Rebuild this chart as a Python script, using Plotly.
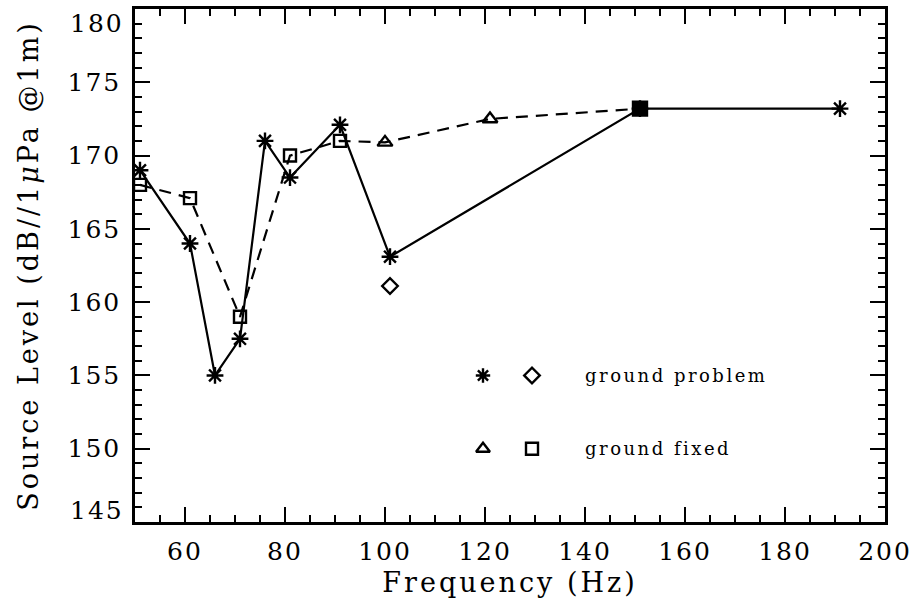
import plotly.graph_objects as go

# ground problem series (asterisks, solid line)
problem_freq = [51, 61, 66, 71, 76, 81, 91, 101, 151, 191]
problem_level = [169.0, 164.0, 155.0, 157.5, 171.0, 168.5, 172.1, 163.1, 173.2, 173.2]

# ground problem extra point (diamond)
diamond_freq = [101]
diamond_level = [161.1]

# ground fixed series (squares / triangles, dashed line)
fixed_freq = [51, 61, 71, 81, 91, 100, 121, 151]
fixed_level = [168.0, 167.1, 159.0, 170.0, 171.0, 170.9, 172.5, 173.2]
fixed_symbols = ["square-open", "square-open", "square-open", "square-open",
                 "square-open", "triangle-up-open", "triangle-up-open", "square"]
fixed_sizes = [12, 12, 12, 12, 12, 13, 13, 14]

# legend keys (drawn inside the plot)
legend_labels = ["ground problem", "ground fixed"]
legend_level = [155.0, 150.0]
legend_sym_x = [119.6, 129.4]
legend_text_x = 139.6

# tick labels
x_ticks = [60, 80, 100, 120, 140, 160, 180, 200]
y_ticks_inner = [150, 155, 160, 165, 170, 175]
y_edge_labels = ["180", "145"]
y_range = [145, 180]
x_range = [50, 200]

FONT = "DejaVu Serif"
BLACK = "black"


def spaced(txt, px):
    return '<span style="letter-spacing:%spx">%s</span>' % (px, txt)


fig = go.Figure()

fig.add_trace(go.Scatter(
    x=problem_freq, y=problem_level, mode="lines+markers",
    line=dict(color=BLACK, width=2.2),
    marker=dict(symbol="asterisk-open", size=14, color=BLACK,
                line=dict(color=BLACK, width=2.4)),
    hoverinfo="skip", showlegend=False))

fig.add_trace(go.Scatter(
    x=fixed_freq, y=fixed_level, mode="lines",
    line=dict(color=BLACK, width=2.2, dash="12px,8px"),
    hoverinfo="skip", showlegend=False))
fig.add_trace(go.Scatter(
    x=fixed_freq, y=fixed_level, mode="markers",
    marker=dict(symbol=fixed_symbols, size=fixed_sizes, color=BLACK, opacity=1,
                line=dict(color=BLACK, width=2.4)),
    hoverinfo="skip", showlegend=False))

fig.add_trace(go.Scatter(
    x=diamond_freq, y=diamond_level, mode="markers",
    marker=dict(symbol="diamond-open", size=12, color=BLACK,
                line=dict(color=BLACK, width=2.4)),
    hoverinfo="skip", showlegend=False))

# legend symbols
fig.add_trace(go.Scatter(
    x=[legend_sym_x[0], legend_sym_x[1]], y=[legend_level[0], legend_level[0]],
    mode="markers",
    marker=dict(symbol=["asterisk-open", "diamond-open"], size=12, color=BLACK,
                line=dict(color=BLACK, width=2.4)),
    hoverinfo="skip", showlegend=False))
fig.add_trace(go.Scatter(
    x=[legend_sym_x[0], legend_sym_x[1]], y=[legend_level[1], legend_level[1]],
    mode="markers",
    marker=dict(symbol=["triangle-up-open", "square-open"], size=12, color=BLACK,
                line=dict(color=BLACK, width=2.4)),
    hoverinfo="skip", showlegend=False))

for lab, lv in zip(legend_labels, legend_level):
    fig.add_annotation(x=legend_text_x, y=lv, text=spaced(lab, 2.5), showarrow=False,
                       xanchor="left", yanchor="middle",
                       font=dict(family=FONT, size=18, color=BLACK))

# edge tick labels of y axis (drawn slightly inside as in the original)
fig.add_annotation(x=0, xref="paper", xanchor="right", xshift=-9,
                   y=y_range[1], yanchor="middle", yshift=-14,
                   text=spaced(y_edge_labels[0], 2), showarrow=False,
                   font=dict(family=FONT, size=25, color=BLACK))
fig.add_annotation(x=0, xref="paper", xanchor="right", xshift=-9,
                   y=y_range[0], yanchor="middle", yshift=12,
                   text=spaced(y_edge_labels[1], 2), showarrow=False,
                   font=dict(family=FONT, size=25, color=BLACK))

axis_common = dict(
    showgrid=False, zeroline=False, showline=True, linecolor=BLACK, linewidth=2.5,
    mirror="ticks", ticks="inside", tickcolor=BLACK, tickwidth=2,
    tickfont=dict(family=FONT, size=25, color=BLACK),
)

fig.update_xaxes(
    range=x_range, tickmode="array", tickvals=x_ticks,
    ticktext=[spaced(str(v), 2) for v in x_ticks],
    ticklen=15, ticklabelstandoff=5,
    minor=dict(dtick=5, tick0=50, ticks="inside", ticklen=7, tickcolor=BLACK, tickwidth=2),
    title=dict(text=spaced("Frequency (Hz)", 3),
               font=dict(family=FONT, size=27, color=BLACK), standoff=9),
    **axis_common)
fig.update_yaxes(
    range=y_range, tickmode="array", tickvals=y_ticks_inner,
    ticktext=[spaced(str(v), 2) for v in y_ticks_inner],
    ticklen=15, ticklabelstandoff=6,
    minor=dict(dtick=1, tick0=145, ticks="inside", ticklen=7, tickcolor=BLACK, tickwidth=2),
    title=dict(text=spaced("Source Level (dB//1<i>μ</i>Pa @1m)", 3),
               font=dict(family=FONT, size=27, color=BLACK), standoff=22),
    **axis_common)

fig.update_layout(
    width=919, height=613,
    margin=dict(l=135, r=34, t=6, b=91),
    paper_bgcolor="white", plot_bgcolor="white",
    hovermode=False,
)

fig.write_html("out.html", config={"displayModeBar": False},
               post_script="document.body.style.margin='0';")
